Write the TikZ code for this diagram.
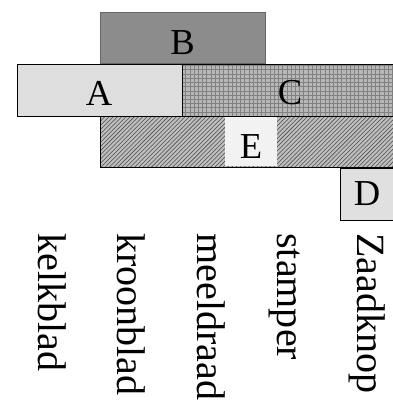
\documentclass[tikz,border=0pt]{standalone}
\usepackage{fontspec}
\setmainfont{Liberation Serif}
\usetikzlibrary{patterns}
\tikzset{
  part/.style={draw=black, line width=0.6pt},
  letter/.style={font=\fontsize{26}{26}\selectfont, inner sep=0pt},
  organ/.style={font=\fontsize{28.5}{28.5}\selectfont, rotate=-90, anchor=base west, inner sep=0pt}
}
\begin{document}
\begin{tikzpicture}[x=0.025cm, y=-0.025cm]
\clip (0,0) rectangle (393,403);
\fill[white] (0,0) rectangle (393,403);
% bovenste rij
\draw[fill=black!45, draw=black!60] (100,12) rectangle (265,63);
\node[letter] (B) at (182.5,42.5) {B};
% middelste rij
\draw[part, fill=black!13] (17,64) rectangle (182,116);
\draw[part, preaction={fill=black!28}, pattern=grid, pattern color=black!50] (182,64) rectangle (400,116);
\node[letter] (A) at (99,93.5) {A};
\node[letter] (C) at (290,92.5) {C};
% gearceerde rij
\draw[part, preaction={fill=black!25}, pattern=north east lines, pattern color=black!70] (100,116) rectangle (400,167);
\fill[black!5] (225,117) rectangle (277,166);
\node[letter] (E) at (251,147) {E};
% zaadknop
\draw[part, fill=black!12] (340,168) rectangle (400,220);
\node[letter] (D) at (367,193.5) {D};
% namen
\node[organ] (kelk) at (38,233) {kelkblad};
\node[organ] (kroon) at (117,233) {kroonblad};
\node[organ] (meel) at (197,233) {meeldraad};
\node[organ] (stamp) at (277,233) {stamper};
\node[organ] (zaad) at (357,233) {Zaadknop};
\end{tikzpicture}
\end{document}
